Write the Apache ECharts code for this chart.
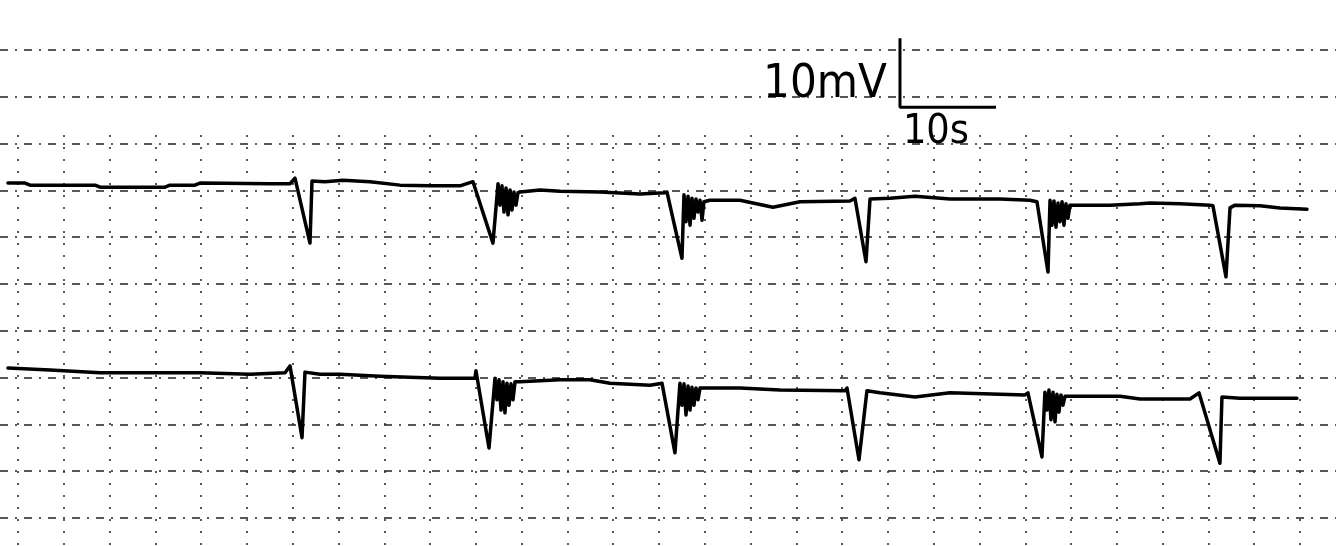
<!DOCTYPE html>
<html>
<head>
<meta charset="utf-8">
<style>
  html, body { margin: 0; padding: 0; background: #fff; }
  #chart { width: 1336px; height: 546px; }
</style>
</head>
<body>
<div id="chart"></div>
<script src="https://cdn.jsdelivr.net/npm/echarts@6/dist/echarts.min.js"></script>
<script type="text/javascript">
// upper trace (time in s, potential in mV)
var topT = [0.83, 2.6, 3.13, 9.9, 10.42, 17.19, 17.71, 20.31, 20.83, 28.13, 30.21, 30.73, 32.29, 32.5, 33.85, 35.73, 38.54, 41.67, 44.79, 47.92,
  49.27, 51.35, 51.88, 52.08, 52.29, 52.5, 52.71, 52.92, 53.13, 53.33, 53.54, 53.75, 53.96, 54.17, 56.25, 58.33, 62.5, 66.67, 69.27, 69.48,
  71.04, 71.25, 71.46, 71.67, 71.88, 72.08, 72.29, 72.5, 72.71, 72.92, 73.13, 73.33, 73.96, 77.08, 80.52, 83.33, 88.54, 89.06, 90.21, 90.63,
  92.71, 95.31, 98.96, 104.17, 107.29, 108.02, 109.17, 109.38, 109.58, 109.79, 110.0, 110.21, 110.42, 110.63, 110.83, 111.04, 111.25, 111.46, 112.5, 115.63,
  118.75, 119.79, 122.92, 126.04, 126.35, 127.71, 128.13, 128.65, 131.25, 133.33, 136.15];
var topV = [52.6, 52.6, 52.3, 52.3, 52.0, 52.0, 52.3, 52.3, 52.6, 52.5, 52.5, 53.3, 43.9, 52.9, 52.8, 53.0, 52.8, 52.3, 52.2, 52.2,
  52.8, 43.9, 52.5, 49.4, 52.2, 48.4, 51.9, 48.0, 51.6, 48.7, 51.3, 49.4, 51.2, 51.3, 51.6, 51.4, 51.3, 51.0, 51.2, 51.3,
  41.7, 50.9, 47.0, 50.7, 46.5, 50.4, 47.5, 50.3, 48.4, 50.1, 47.2, 49.9, 50.1, 50.1, 49.1, 49.9, 50.0, 50.4, 41.2, 50.3,
  50.4, 50.7, 50.3, 50.3, 50.1, 49.9, 39.7, 50.1, 46.5, 50.0, 46.2, 49.7, 47.0, 49.9, 46.5, 49.6, 47.5, 49.4, 49.4, 49.4,
  49.6, 49.7, 49.6, 49.4, 49.3, 39.0, 49.0, 49.4, 49.3, 49.0, 48.8];

// lower trace
var botT = [0.83, 5.21, 10.42, 20.83, 26.04, 29.69, 30.21, 31.46, 31.77, 33.33, 35.42, 39.58, 45.83, 49.48, 49.58, 50.94, 51.56,
  51.77, 51.98, 52.19, 52.4, 52.6, 52.81, 53.02, 53.23, 53.44, 53.65, 54.17, 58.33, 61.46, 63.54, 67.71, 68.96, 70.31, 70.83,
  71.04, 71.25, 71.46, 71.67, 71.88, 72.08, 72.29, 72.5, 72.71, 72.92, 75.0, 77.08, 81.25, 88.02, 88.23, 89.48, 90.31, 91.67,
  95.31, 98.96, 104.17, 106.77, 107.08, 108.54, 108.85, 109.06, 109.27, 109.48, 109.69, 109.9, 110.1, 110.31, 110.52, 110.73, 110.94,
  111.46, 116.67, 118.75, 123.96, 124.9, 127.08, 127.29, 129.17, 135.1];
var botV = [25.8, 25.5, 25.1, 25.1, 24.9, 25.1, 26.1, 15.7, 25.2, 24.9, 24.9, 24.6, 24.3, 24.3, 25.4, 14.2, 24.3,
  21.2, 24.1, 19.7, 23.8, 19.3, 23.6, 20.4, 23.5, 21.2, 23.8, 23.8, 24.1, 24.1, 23.6, 23.3, 23.6, 13.5, 23.6,
  20.4, 23.5, 19.0, 23.2, 19.7, 23.0, 20.4, 22.9, 21.2, 22.9, 22.9, 22.9, 22.6, 22.5, 22.9, 12.5, 22.5, 22.2,
  21.6, 22.2, 22.0, 21.9, 22.2, 12.9, 22.3, 19.7, 22.6, 18.3, 22.3, 18.0, 22.0, 19.4, 21.9, 20.4, 21.7,
  21.7, 21.7, 21.3, 21.3, 22.2, 12.0, 21.6, 21.4, 21.4];

// calibration bar: 10 mV up, 10 s across
var scaleT = [93.75, 93.75, 103.75];
var scaleV = [73.6, 63.6, 63.6];

function pairs(t, v) {
  return t.map(function (x, i) { return [x, v[i]]; });
}

var myChart = echarts.init(document.getElementById('chart'));

var hidden = { axisLine: { show: false }, axisTick: { show: false }, axisLabel: { show: false } };
var traceStyle = { color: '#000', width: 3.5, join: 'round', cap: 'round' };
var labelFont = "'DejaVu Sans Condensed', 'Liberation Sans Narrow', sans-serif";

var option = {
  backgroundColor: '#fff',
  animation: false,
  grid: [
    { left: 0, right: 0, top: 0, bottom: 0 },
    { left: 0, right: 0, top: 50, bottom: 28 },
    { left: 18, right: 36, top: 135, bottom: 0 }
  ],
  xAxis: [
    Object.assign({ type: 'value', gridIndex: 0, min: 0, max: 139.17, splitLine: { show: false } }, hidden),
    Object.assign({ type: 'value', gridIndex: 1, min: 0, max: 10, splitLine: { show: false } }, hidden),
    Object.assign({ type: 'value', gridIndex: 2, min: 0, max: 140, interval: 5,
      splitLine: { show: true, lineStyle: { color: '#222', width: 1.5, type: [2, 10] } } }, hidden)
  ],
  yAxis: [
    Object.assign({ type: 'value', gridIndex: 0, min: 0, max: 79.13, splitLine: { show: false } }, hidden),
    Object.assign({ type: 'value', gridIndex: 1, min: 0, max: 10, interval: 1,
      splitLine: { show: true, lineStyle: { color: '#222', width: 1.5, type: [8, 7, 2, 7] } } }, hidden),
    Object.assign({ type: 'value', gridIndex: 2, min: 0, max: 10, splitLine: { show: false } }, hidden)
  ],
  series: [
    {
      name: 'upper', type: 'line', xAxisIndex: 0, yAxisIndex: 0,
      showSymbol: false, symbol: 'none', lineStyle: traceStyle,
      data: pairs(topT, topV)
    },
    {
      name: 'lower', type: 'line', xAxisIndex: 0, yAxisIndex: 0,
      showSymbol: false, symbol: 'none', lineStyle: traceStyle,
      data: pairs(botT, botV)
    },
    {
      name: 'scale', type: 'line', xAxisIndex: 0, yAxisIndex: 0,
      showSymbol: false, symbol: 'none', lineStyle: { color: '#000', width: 3 },
      data: pairs(scaleT, scaleV)
    },
    {
      name: 'scaleLabels', type: 'scatter', xAxisIndex: 0, yAxisIndex: 0,
      symbolSize: 0, silent: true, itemStyle: { opacity: 1 },
      data: [
        { value: [scaleT[1], scaleV[1]],
          label: { show: true, position: 'insideBottomRight', offset: [-8, 6], formatter: '10mV',
            fontFamily: labelFont, fontSize: 47, color: '#000' } },
        { value: [(scaleT[1] + scaleT[2]) / 2, scaleV[2]],
          label: { show: true, position: 'bottom', offset: [-12, 0], formatter: '10s',
            fontFamily: labelFont, fontSize: 41, color: '#000' } }
      ]
    }
  ]
};

myChart.setOption(option);
</script>
</body>
</html>
